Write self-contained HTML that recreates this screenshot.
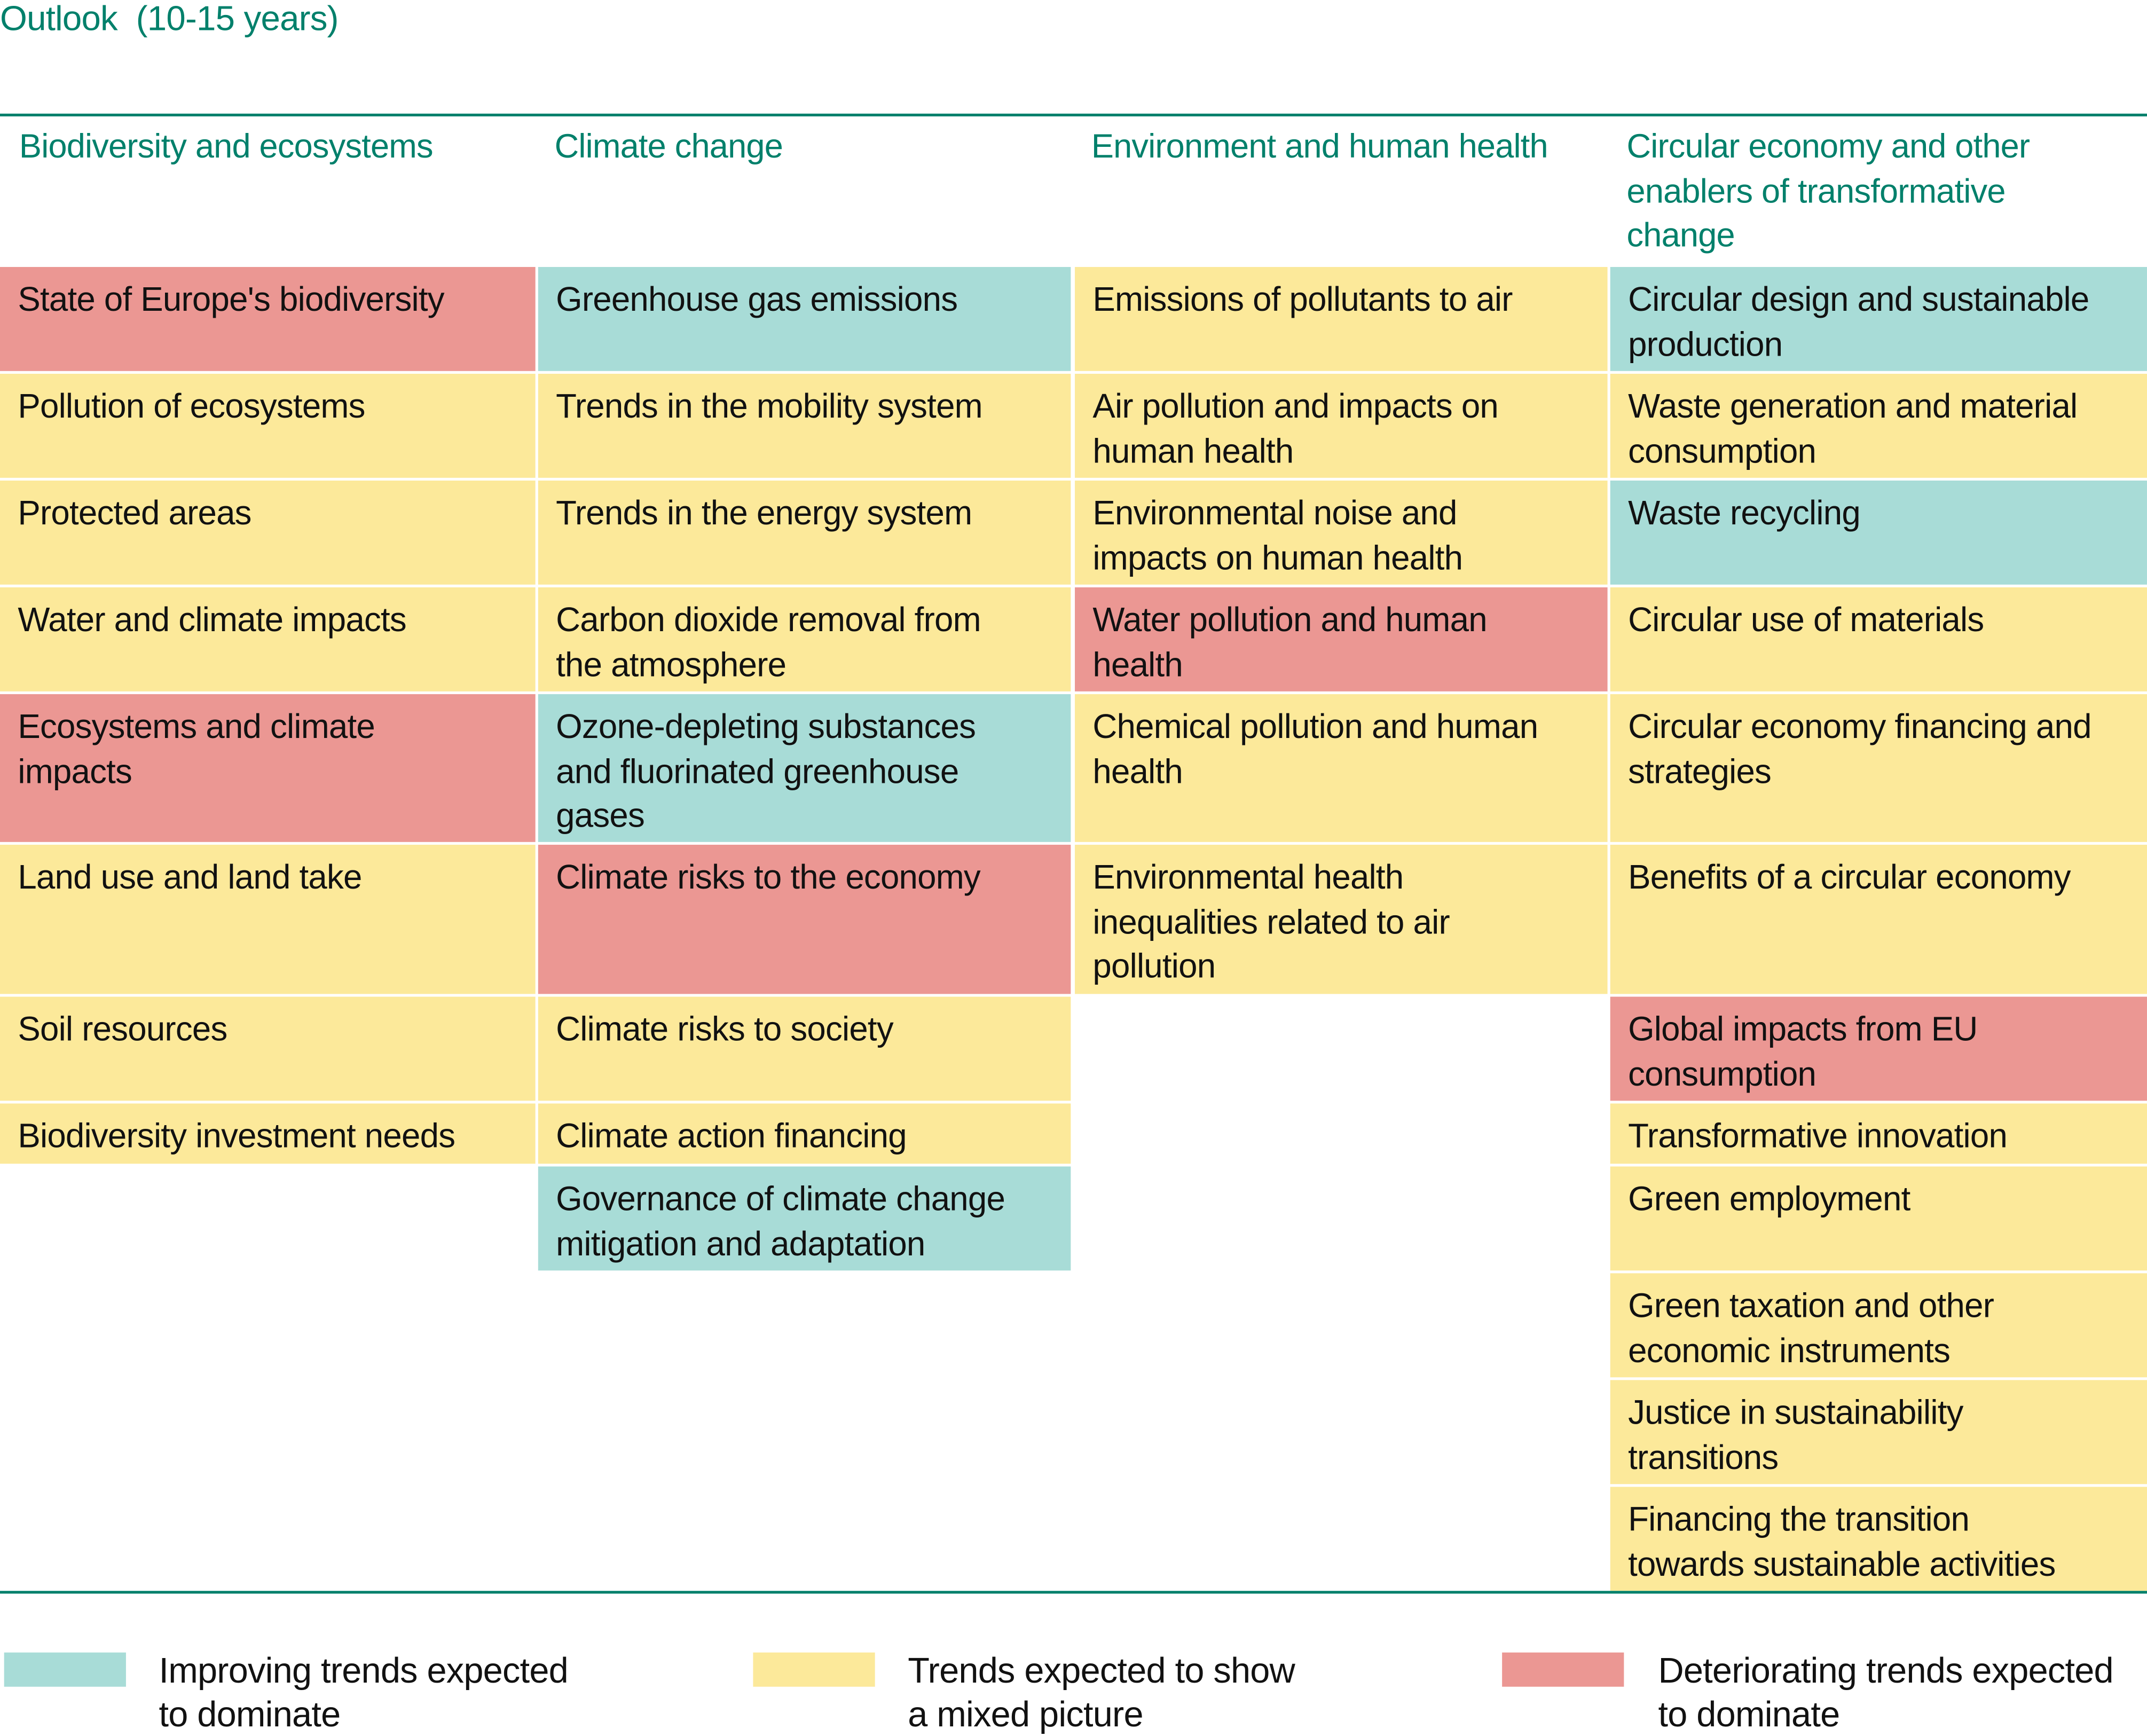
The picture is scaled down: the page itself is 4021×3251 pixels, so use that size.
<!DOCTYPE html>
<html><head><meta charset="utf-8"><style>
html,body{margin:0;padding:0;background:#fff;}
body{width:4021px;height:3251px;overflow:hidden;position:relative;}
#w{position:absolute;left:0;top:0;width:1568px;height:1268px;transform:scale(2.5644,2.5639);transform-origin:0 0;font-family:"Liberation Sans",sans-serif;}
.c{position:absolute;box-sizing:border-box;padding:9px 0 0 13px;font-size:24.8px;line-height:32.5px;color:#111;white-space:nowrap;letter-spacing:-0.3px;}
.R{background:#eb9793}.Y{background:#fce99a}.T{background:#a8dcd7}
.h{position:absolute;font-size:24.6px;line-height:32.5px;color:#00806b;white-space:nowrap;letter-spacing:-0.3px;}
.ln{position:absolute;left:0;width:1568px;background:#00806b;}
.sw{position:absolute;top:1207px;width:89px;height:25px;}
.lg{position:absolute;top:1204px;font-size:26px;line-height:32px;color:#111;white-space:nowrap;letter-spacing:-0.3px;}
</style></head><body><div id="w">
<div class="h" style="left:0;top:-2px;font-size:25.5px;">Outlook&nbsp; (10-15 years)</div>
<div class="ln" style="top:83px;height:2px;"></div>
<div class="h" style="left:14px;top:92px;">Biodiversity and ecosystems</div>
<div class="h" style="left:405px;top:92px;">Climate change</div>
<div class="h" style="left:797px;top:92px;">Environment and human health</div>
<div class="h" style="left:1188px;top:92px;">Circular economy and other<br>enablers of transformative<br>change</div>

<div class="c R" style="left:0;top:195px;width:391px;height:76px;">State of Europe's biodiversity</div>
<div class="c Y" style="left:0;top:273px;width:391px;height:76px;">Pollution of ecosystems</div>
<div class="c Y" style="left:0;top:351px;width:391px;height:76px;">Protected areas</div>
<div class="c Y" style="left:0;top:429px;width:391px;height:76px;">Water and climate impacts</div>
<div class="c R" style="left:0;top:507px;width:391px;height:108px;">Ecosystems and climate<br>impacts</div>
<div class="c Y" style="left:0;top:617px;width:391px;height:109px;">Land use and land take</div>
<div class="c Y" style="left:0;top:728px;width:391px;height:76px;">Soil resources</div>
<div class="c Y" style="left:0;top:806px;width:391px;height:44px;">Biodiversity investment needs</div>

<div class="c T" style="left:393px;top:195px;width:389px;height:76px;">Greenhouse gas emissions</div>
<div class="c Y" style="left:393px;top:273px;width:389px;height:76px;">Trends in the mobility system</div>
<div class="c Y" style="left:393px;top:351px;width:389px;height:76px;">Trends in the energy system</div>
<div class="c Y" style="left:393px;top:429px;width:389px;height:76px;">Carbon dioxide removal from<br>the atmosphere</div>
<div class="c T" style="left:393px;top:507px;width:389px;height:108px;">Ozone-depleting substances<br>and fluorinated greenhouse<br>gases</div>
<div class="c R" style="left:393px;top:617px;width:389px;height:109px;">Climate risks to the economy</div>
<div class="c Y" style="left:393px;top:728px;width:389px;height:76px;">Climate risks to society</div>
<div class="c Y" style="left:393px;top:806px;width:389px;height:44px;">Climate action financing</div>
<div class="c T" style="left:393px;top:852px;width:389px;height:76px;">Governance of climate change<br>mitigation and adaptation</div>

<div class="c Y" style="left:785px;top:195px;width:389px;height:76px;">Emissions of pollutants to air</div>
<div class="c Y" style="left:785px;top:273px;width:389px;height:76px;">Air pollution and impacts on<br>human health</div>
<div class="c Y" style="left:785px;top:351px;width:389px;height:76px;">Environmental noise and<br>impacts on human health</div>
<div class="c R" style="left:785px;top:429px;width:389px;height:76px;">Water pollution and human<br>health</div>
<div class="c Y" style="left:785px;top:507px;width:389px;height:108px;">Chemical pollution and human<br>health</div>
<div class="c Y" style="left:785px;top:617px;width:389px;height:109px;">Environmental health<br>inequalities related to air<br>pollution</div>

<div class="c T" style="left:1176px;top:195px;width:392px;height:76px;">Circular design and sustainable<br>production</div>
<div class="c Y" style="left:1176px;top:273px;width:392px;height:76px;">Waste generation and material<br>consumption</div>
<div class="c T" style="left:1176px;top:351px;width:392px;height:76px;">Waste recycling</div>
<div class="c Y" style="left:1176px;top:429px;width:392px;height:76px;">Circular use of materials</div>
<div class="c Y" style="left:1176px;top:507px;width:392px;height:108px;">Circular economy financing and<br>strategies</div>
<div class="c Y" style="left:1176px;top:617px;width:392px;height:109px;">Benefits of a circular economy</div>
<div class="c R" style="left:1176px;top:728px;width:392px;height:76px;">Global impacts from EU<br>consumption</div>
<div class="c Y" style="left:1176px;top:806px;width:392px;height:44px;">Transformative innovation</div>
<div class="c Y" style="left:1176px;top:852px;width:392px;height:76px;">Green employment</div>
<div class="c Y" style="left:1176px;top:930px;width:392px;height:76px;">Green taxation and other<br>economic instruments</div>
<div class="c Y" style="left:1176px;top:1008px;width:392px;height:76px;">Justice in sustainability<br>transitions</div>
<div class="c Y" style="left:1176px;top:1086px;width:392px;height:76px;">Financing the transition<br>towards sustainable activities</div>

<div class="ln" style="top:1162px;height:2px;"></div>

<div class="sw T" style="left:3px;"></div>
<div class="lg" style="left:116px;">Improving trends expected<br>to dominate</div>
<div class="sw Y" style="left:550px;"></div>
<div class="lg" style="left:663px;">Trends expected to show<br>a mixed picture</div>
<div class="sw R" style="left:1097px;"></div>
<div class="lg" style="left:1211px;">Deteriorating trends expected<br>to dominate</div>
</div></body></html>
